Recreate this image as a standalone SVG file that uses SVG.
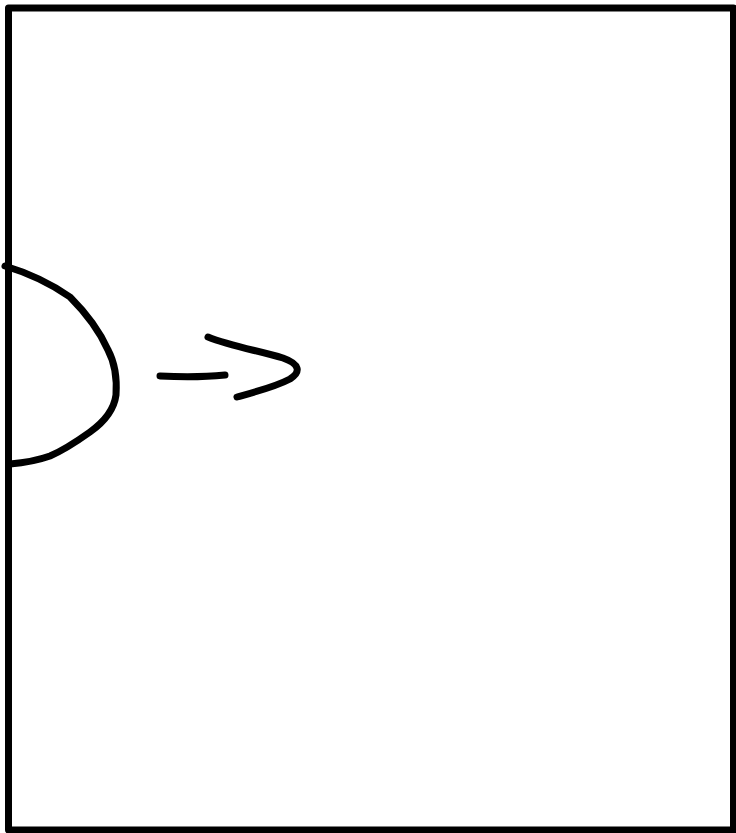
<svg xmlns="http://www.w3.org/2000/svg" width="736" height="833" viewBox="0 0 736 833">
<style>
.s{fill:none;stroke:#000;stroke-width:7;stroke-linecap:round;stroke-linejoin:round}
</style>
<rect width="736" height="833" fill="#fff"/>
<g id="frame"><rect class="s" x="8.5" y="8" width="725" height="822" stroke-linecap="butt" stroke-linejoin="miter"/></g>
<g id="half-circle"><path class="s" d="M5,266 C25,272 50,283 70,297 C85,312 100,332 108,350 C116,365 117,380 116,395 C114,410 104,422 90,432 C76,442 64,450 50,456 C36,461 22,463 10,464"/></g>
<g id="connectors">
<path class="s" d="M160,376 C180,377 205,377 225,375"/>
<path class="s" d="M208,337 C230,346 260,351 283,358 C300,364 301,372 290,379 C275,387 255,392 237,397"/>
</g>
</svg>
